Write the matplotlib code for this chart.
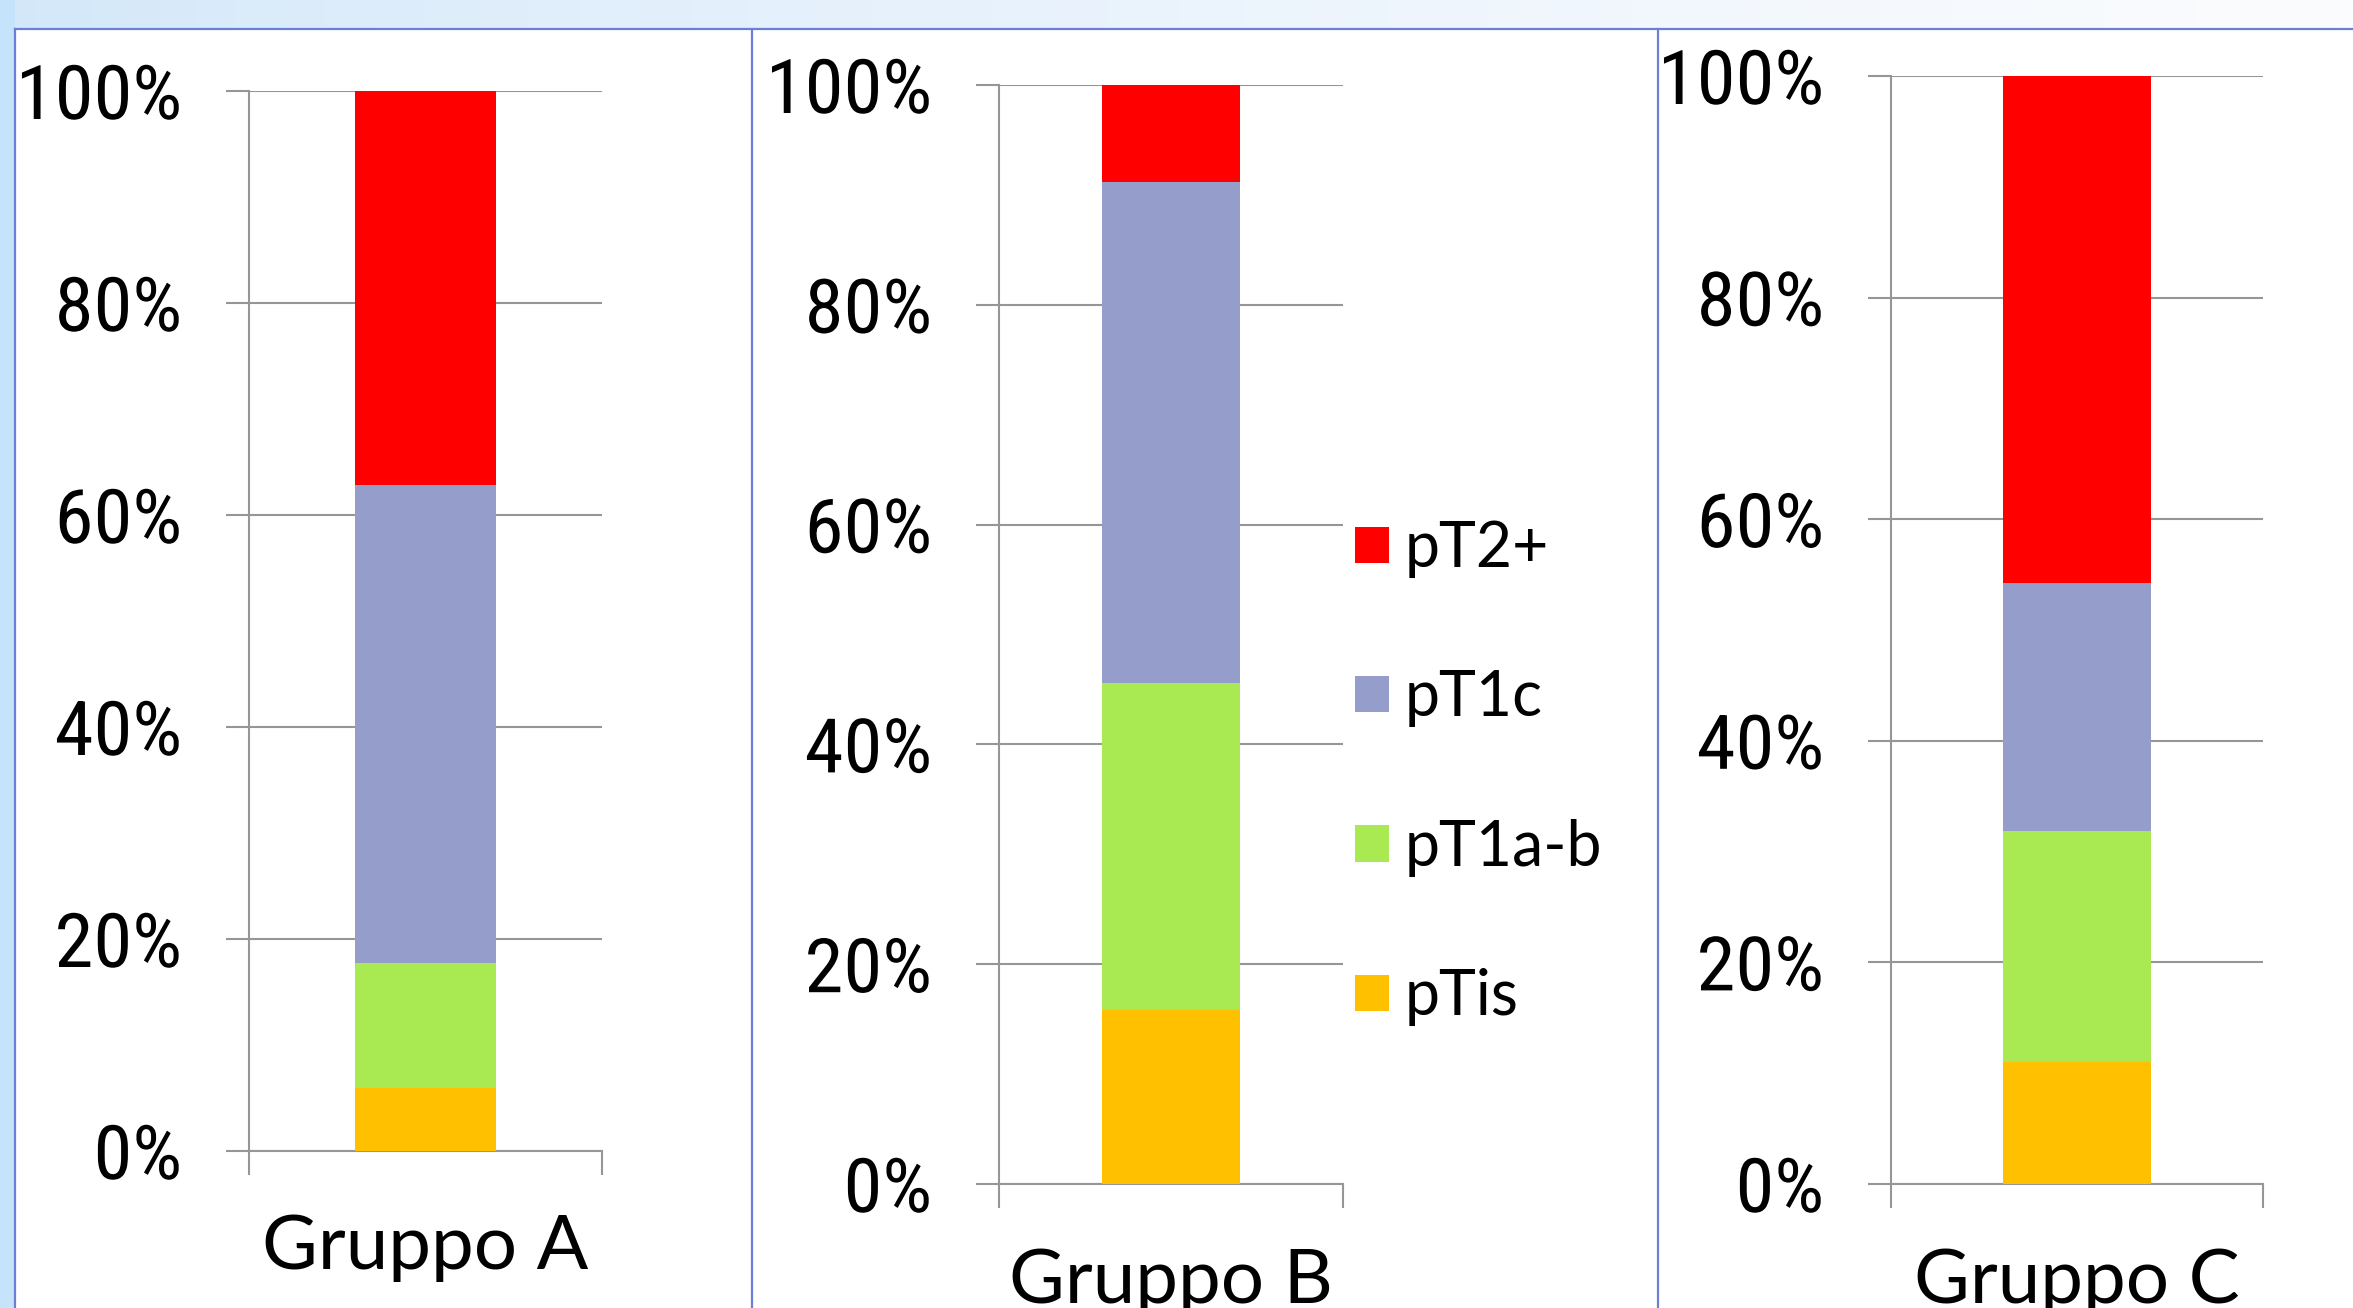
import matplotlib
matplotlib.use('Agg')
import matplotlib.pyplot as plt
import numpy as np
from matplotlib import font_manager as fm
from matplotlib.lines import Line2D
from matplotlib.patches import Rectangle
from matplotlib.colors import LinearSegmentedColormap
from matplotlib.textpath import TextPath
from matplotlib.patheffects import AbstractPathEffect
from matplotlib.transforms import Affine2D

# ---------------- data ----------------
groups = ['Gruppo A', 'Gruppo B', 'Gruppo C']
series_names = ['pTis', 'pT1a-b', 'pT1c', 'pT2+']
pTis = [5.9, 15.8, 11.0]
pT1ab = [11.8, 29.8, 20.9]
pT1c = [45.1, 45.6, 22.3]
pT2plus = [37.2, 8.8, 45.8]
yticks = [0, 20, 40, 60, 80, 100]
ytick_labels = ['0%', '20%', '40%', '60%', '80%', '100%']
colors = ['#ffc000', '#a9ea52', '#959dcb', '#ff0000']

series_values = [pTis, pT1ab, pT1c, pT2plus]

# ---------------- figure ----------------
W, H = 2353, 1308
DPI = 100
fig = plt.figure(figsize=(W / DPI, H / DPI), dpi=DPI, facecolor='white')

def px_rect(left, right, top, bottom):
    return [left / W, (H - bottom) / H, (right - left) / W, (bottom - top) / H]

def px2pt(p):
    return p * 72.0 / DPI

# background: gradient top band and left band
bg = fig.add_axes(px_rect(0, W, 0, 28), zorder=0)
grad = np.linspace(0, 1, 512) ** 0.7
cmap = LinearSegmentedColormap.from_list('bgband', ['#d2e7f9', '#e6f1fc', '#fbfcfe'])
bg.imshow(grad[np.newaxis, :], aspect='auto', cmap=cmap, extent=[0, 1, 0, 1])
bg.set_axis_off()
fig.patches.append(Rectangle((0, 0), 15 / W, 1, transform=fig.transFigure,
                             facecolor='#c5e3fb', edgecolor='none', zorder=0))

# panel borders
bcol = '#6b7fd6'
blw = 1.6
fig.add_artist(Line2D([15 / W, 1], [(H - 28.5) / H] * 2, color=bcol, lw=blw))
for xb in [15, 752, 1658]:
    fig.add_artist(Line2D([xb / W] * 2, [0, (H - 28.5) / H], color=bcol, lw=blw))

# ---------------- fonts ----------------
names = {f.name for f in fm.fontManager.ttflist}
bases = ['Noto Sans', 'Open Sans', 'DejaVu Sans', 'Liberation Sans', 'Roboto', 'Lato', 'Inter']
TARGET = 2.93  # width("100%") / cap height in the reference

def metrics(fp):
    w = TextPath((0, 0), '100%', size=100, prop=fp).get_extents().width
    ch = TextPath((0, 0), 'H', size=100, prop=fp).get_extents().height
    return w / ch, ch / 100.0

best = None
for f in fm.fontManager.ttflist:
    try:
        if f.style != 'normal':
            continue
        wt = f.weight if isinstance(f.weight, int) else fm.weight_dict.get(str(f.weight), 400)
        if wt != 400:
            continue
        if not any(f.name.startswith(b) for b in bases):
            continue
        if 'Mono' in f.name or 'CJK' in f.name:
            continue
        if f.name not in bases and not any(k in f.name for k in ('Condensed', 'Narrow')):
            continue
        fp = fm.FontProperties(fname=f.fname)
        r, capr = metrics(fp)
        score = abs(np.log(r / TARGET))
        if best is None or score < best[0]:
            best = (score, f.fname, r, capr)
    except Exception:
        continue

if best is not None:
    tick_fname, tick_ratio, tick_cap = best[1], best[2], best[3]
    tick_fp = fm.FontProperties(fname=tick_fname)
else:
    tick_fp = fm.FontProperties(family='DejaVu Sans')
    tick_ratio, tick_cap = metrics(tick_fp)
cap_px = 53.5
tick_size_pt = px2pt(cap_px / tick_cap)
tick_fp.set_size(tick_size_pt)
squeeze = TARGET / tick_ratio


class HScale(AbstractPathEffect):
    """Horizontal scaling of text glyphs about their right edge."""
    def __init__(self, sx):
        super().__init__()
        self.sx = sx

    def draw_path(self, renderer, gc, tpath, affine, rgbFace=None):
        w = tpath.get_extents().x1
        t = Affine2D().translate(-w, 0).scale(self.sx, 1).translate(w, 0)
        renderer.draw_path(gc, tpath, t + affine, rgbFace)


lab_family = 'Lato' if 'Lato' in names else 'DejaVu Sans'
group_fp = fm.FontProperties(family=lab_family, size=55)
legend_fp = fm.FontProperties(family=lab_family, size=45)

gcol = '#969696'
axes_px = [(249, 602, 91, 1151), (999, 1343, 85, 1184), (1891, 2263, 76, 1184)]

handles = None
for gi, (g, box) in enumerate(zip(groups, axes_px)):
    ax = fig.add_axes(px_rect(*box), zorder=2)
    ax.set_facecolor('none')
    bottom = 0.0
    hs = []
    for name, vals, c in zip(series_names, series_values, colors):
        b = ax.bar(0, vals[gi], width=0.4, bottom=bottom, color=c,
                   edgecolor='none', label=name, zorder=3)
        hs.append(b)
        bottom += vals[gi]
    if gi == 1:
        handles = hs
    ax.set_xlim(-0.5, 0.5)
    ax.set_ylim(0, 100)
    ax.set_yticks(yticks)
    ax.set_yticklabels(ytick_labels)
    for lbl in ax.get_yticklabels():
        lbl.set_fontproperties(tick_fp)
        if abs(squeeze - 1) > 0.02:
            lbl.set_path_effects([HScale(squeeze)])
    ax.yaxis.grid(True, color=gcol, lw=1.5, zorder=1)
    ax.set_axisbelow(True)
    for s in ['top', 'right']:
        ax.spines[s].set_visible(False)
    for s in ['left', 'bottom']:
        ax.spines[s].set_color(gcol)
        ax.spines[s].set_linewidth(1.5)
    ax.tick_params(axis='y', direction='out', length=px2pt(23), width=1.5,
                   color=gcol, pad=px2pt(44), labelcolor='black')
    ax.set_xticks([-0.5, 0.5])
    ax.set_xticklabels(['', ''])
    ax.tick_params(axis='x', direction='out', length=px2pt(24), width=1.5, color=gcol)
    ax.annotate(g, xy=(0, 0), xycoords='data', xytext=(0, -px2pt(118.5)),
                textcoords='offset points', ha='center', va='baseline',
                fontproperties=group_fp, color='black', annotation_clip=False)

# legend
fig.legend(handles[::-1], series_names[::-1], loc='center left',
           bbox_to_anchor=(1355 / W, (H - 773) / H), frameon=False,
           borderpad=0, borderaxespad=0, handlelength=0.55, handleheight=0.52,
           handletextpad=0.24, labelspacing=1.46, prop=legend_fp)

fig.savefig('out.png', dpi=DPI, facecolor='white')
